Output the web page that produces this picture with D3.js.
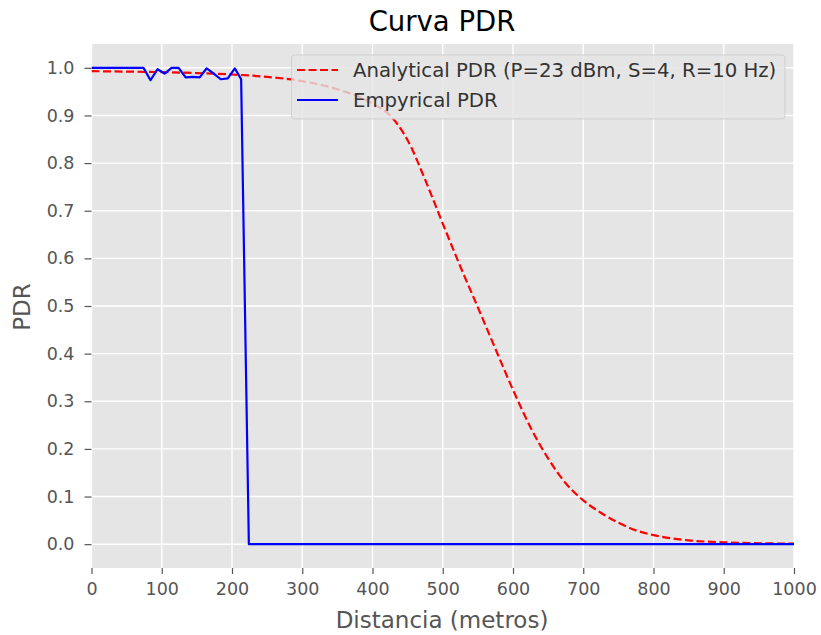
<!DOCTYPE html>
<html>
<head>
<meta charset="utf-8">
<script src="https://cdn.jsdelivr.net/npm/d3@7"></script>
<style>
  html, body { margin: 0; padding: 0; background: #ffffff; }
  svg text { font-family: "DejaVu Sans", sans-serif; }
</style>
</head>
<body>
<svg id="chart" width="821" height="635"></svg>
<script>
// ---- data ----
const analyticalDist = [0, 50, 100, 150, 200, 250, 300, 350, 400, 425, 450, 475, 500, 525, 550, 575, 600, 625, 650, 675, 700, 725, 750, 775, 800, 850, 900, 950, 1000];
const analyticalPDR  = [0.993, 0.992, 0.991, 0.989, 0.986, 0.981, 0.972, 0.955, 0.925, 0.90, 0.848, 0.765, 0.673, 0.583, 0.497, 0.41, 0.324, 0.245, 0.18, 0.128, 0.092, 0.066, 0.045, 0.029, 0.019, 0.008, 0.004, 0.002, 0.001];

const empiricalDist = [0, 74, 84, 94, 104, 114, 124, 134, 144, 154, 164, 174, 184, 194, 204, 213, 224, 1000];
const empiricalPDR  = [1.0, 1.0, 0.974, 0.997, 0.988, 1.0, 1.0, 0.980, 0.981, 0.980, 0.999, 0.988, 0.976, 0.978, 0.999, 0.976, 0.0, 0.0];

const xTicks = [0, 100, 200, 300, 400, 500, 600, 700, 800, 900, 1000];
const yTicks = [0.0, 0.1, 0.2, 0.3, 0.4, 0.5, 0.6, 0.7, 0.8, 0.9, 1.0];

const titleText = "Curva PDR";
const xLabel = "Distancia (metros)";
const yLabel = "PDR";
const seriesNames = ["Analytical PDR (P=23 dBm, S=4, R=10 Hz)", "Empyrical PDR"];

// ---- layout ----
const svg = d3.select("#chart");
const pL = 91.5, pR = 794, pT = 44, pB = 568;

const x = d3.scaleLinear().domain([0, 1000]).range([pL, pR]);
const y = d3.scaleLinear().domain([-0.05, 1.05]).range([pB, pT]);

// background
svg.append("rect").attr("x", pL).attr("y", pT)
  .attr("width", pR - pL).attr("height", pB - pT)
  .attr("fill", "#E5E5E5");

// grid
const grid = svg.append("g");
grid.selectAll("line.vx").data(xTicks).join("line")
  .attr("x1", d => x(d)).attr("x2", d => x(d))
  .attr("y1", pT).attr("y2", pB)
  .attr("stroke", "#ffffff").attr("stroke-width", 1.4);
grid.selectAll("line.hy").data(yTicks).join("line")
  .attr("y1", d => y(d)).attr("y2", d => y(d))
  .attr("x1", pL).attr("x2", pR)
  .attr("stroke", "#ffffff").attr("stroke-width", 1.4);

// axes
const xAxis = d3.axisBottom(x).tickValues(xTicks).tickFormat(d3.format("d"))
  .tickSize(6).tickPadding(9);
const gx = svg.append("g").attr("transform", `translate(0,${pB})`).call(xAxis);
gx.select(".domain").remove();
gx.selectAll(".tick line").attr("stroke", "#555555").attr("stroke-width", 1.2);
gx.selectAll(".tick text").attr("fill", "#555555").attr("font-size", 17.5)
  .attr("font-family", "DejaVu Sans");

const yAxis = d3.axisLeft(y).tickValues(yTicks).tickFormat(d3.format(".1f"))
  .tickSize(7).tickPadding(10);
const gy = svg.append("g").attr("transform", `translate(${pL},0)`).call(yAxis);
gy.select(".domain").remove();
gy.selectAll(".tick line").attr("stroke", "#555555").attr("stroke-width", 1.2);
gy.selectAll(".tick text").attr("fill", "#555555").attr("font-size", 17.5)
  .attr("font-family", "DejaVu Sans");

// lines
svg.append("clipPath").attr("id", "clip")
  .append("rect").attr("x", pL).attr("y", pT).attr("width", pR - pL).attr("height", pB - pT);

const analytical = analyticalDist.map((d, i) => [d, analyticalPDR[i]]);
const empirical = empiricalDist.map((d, i) => [d, empiricalPDR[i]]);

const lineSmooth = d3.line().x(d => x(d[0])).y(d => y(d[1])).curve(d3.curveMonotoneX);
const lineStraight = d3.line().x(d => x(d[0])).y(d => y(d[1]));

const plotG = svg.append("g").attr("clip-path", "url(#clip)");
plotG.append("path").datum(analytical)
  .attr("d", lineSmooth).attr("fill", "none")
  .attr("stroke", "#ff0000").attr("stroke-width", 2.2)
  .attr("stroke-dasharray", "8,3.5");
plotG.append("path").datum(empirical)
  .attr("d", lineStraight).attr("fill", "none")
  .attr("stroke", "#0000ff").attr("stroke-width", 2.2)
  .attr("stroke-linejoin", "round");

// legend
const lg = svg.append("g");
lg.append("rect").attr("x", 291.5).attr("y", 55).attr("width", 493.5).attr("height", 64)
  .attr("rx", 3).attr("fill", "#E5E5E5").attr("fill-opacity", 0.8)
  .attr("stroke", "#cccccc").attr("stroke-opacity", 0.8).attr("stroke-width", 1);
const legendRows = [
  {name: seriesNames[0], color: "#ff0000", dash: "8,3.5", cy: 70},
  {name: seriesNames[1], color: "#0000ff", dash: null, cy: 100}
];
legendRows.forEach(r => {
  const l = lg.append("line").attr("x1", 297).attr("x2", 338)
    .attr("y1", r.cy).attr("y2", r.cy)
    .attr("stroke", r.color).attr("stroke-width", 2.2);
  if (r.dash) l.attr("stroke-dasharray", r.dash);
  lg.append("text").attr("x", 353).attr("y", r.cy).attr("dy", "0.36em")
    .attr("font-size", 19.7).attr("fill", "#333333").text(r.name);
});

// title and labels
svg.append("text").attr("x", 442).attr("y", 31).attr("text-anchor", "middle")
  .attr("font-size", 27.5).attr("fill", "#000000").text(titleText);
svg.append("text").attr("x", 442).attr("y", 628).attr("text-anchor", "middle")
  .attr("font-size", 23).attr("fill", "#555555").text(xLabel);
svg.append("text").attr("transform", `translate(30,307) rotate(-90)`)
  .attr("text-anchor", "middle")
  .attr("font-size", 23).attr("fill", "#555555").text(yLabel);
</script>
</body>
</html>
